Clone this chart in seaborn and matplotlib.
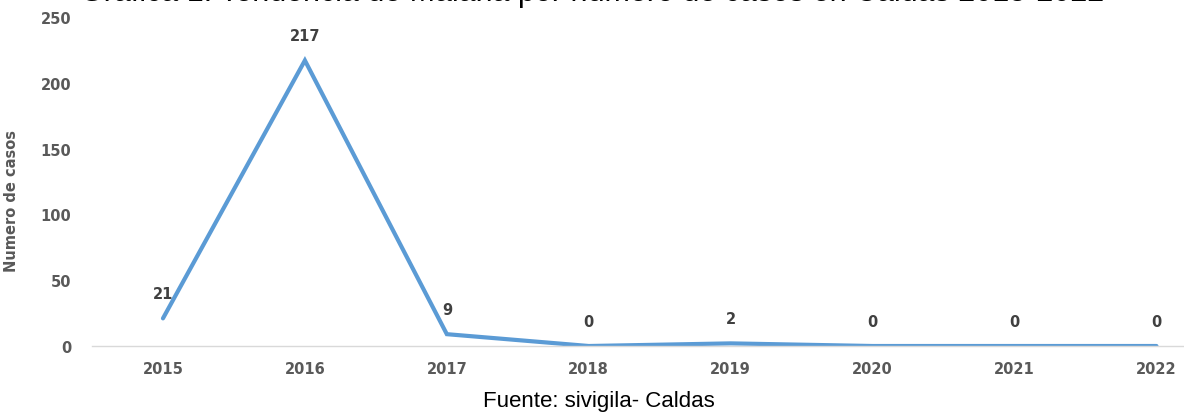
import matplotlib
matplotlib.use("Agg")
import matplotlib.pyplot as plt
import seaborn as sns
import pandas as pd

years = ["2015", "2016", "2017", "2018", "2019", "2020", "2021", "2022"]
cases = [21, 217, 9, 0, 2, 0, 0, 0]
y_ticks = [0, 50, 100, 150, 200, 250]

title_text = "Gráfica 1. Tendencia de Malaria por número de casos en Caldas 2015-2022"
y_label = "Numero de casos"
source_text = "Fuente: sivigila- Caldas"

sns.set_theme(style="white")
plt.rcParams["font.family"] = ["DejaVu Sans"]

df = pd.DataFrame({"year": years, "cases": cases})

fig = plt.figure(figsize=(11.84, 4.14), dpi=100)
ax = fig.add_axes([0.0777, 0.1618, 0.959, 0.7947])

sns.lineplot(data=df, x="year", y="cases", ax=ax, color="#5B9BD5",
             linewidth=3.0, sort=False, solid_joinstyle="miter")

ax.set_xlim(-0.5, len(years) - 0.5)
ax.set_ylim(0, 250)
ax.set_yticks(y_ticks)
ax.set_yticklabels([str(t) for t in y_ticks])

grey = "#595959"
ax.tick_params(axis="both", length=0, labelsize=10.5, labelcolor=grey)
ax.tick_params(axis="x", pad=11)
ax.tick_params(axis="y", pad=15)
for lab in ax.get_xticklabels() + ax.get_yticklabels():
    lab.set_fontweight("bold")

for s in ["top", "right", "left"]:
    ax.spines[s].set_visible(False)
ax.spines["bottom"].set_color("#D9D9D9")
ax.spines["bottom"].set_linewidth(1.0)

ax.set_xlabel("")
ax.set_ylabel(y_label, fontsize=10.5, fontweight="bold", color=grey)
ax.yaxis.set_label_coords(-0.064, 0.444)

for i, v in enumerate(cases):
    ax.annotate(str(v), (i, v), xytext=(0, 18), textcoords="offset points",
                ha="center", va="center", fontsize=10.5, fontweight="bold",
                color="#404040")

fig.text(0.5, 1.0 - 0.5 / 414, title_text, ha="center", va="baseline",
         fontsize=22, family="Liberation Sans", color="#000000")
fig.text(0.506, 0.031, source_text, ha="center", va="center",
         fontsize=16, family="Liberation Sans", color="#000000")

fig.savefig("out.png", dpi=100)
